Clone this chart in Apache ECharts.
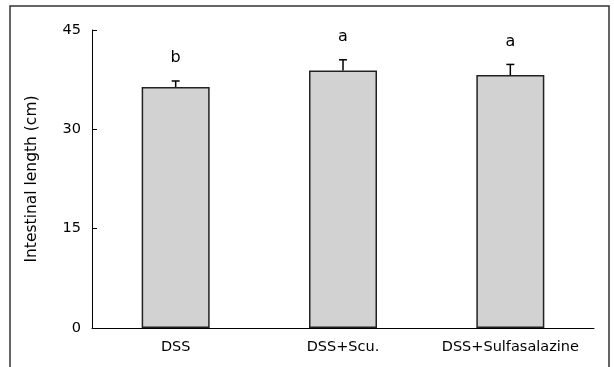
<!DOCTYPE html>
<html>
<head>
<meta charset="utf-8">
<script src="https://cdn.jsdelivr.net/npm/echarts@6/dist/echarts.min.js"></script>
<style>
  html, body { margin: 0; padding: 0; background: #fff; }
  #main { width: 614px; height: 367px; }
</style>
</head>
<body>
<div id="main"></div>
<script>
var categories = ['DSS', 'DSS+Scu.', 'DSS+Sulfasalazine'];
var means = [36.4, 38.9, 38.2];
var errors = [0.9, 1.6, 1.6];
var letters = ['b', 'a', 'a'];
var yTicks = [0, 15, 30, 45];

var myChart = echarts.init(document.getElementById('main'));

var errData = means.map(function (m, i) {
  return [i, m, m + errors[i], letters[i]];
});

var option = {
  animation: false,
  textStyle: { fontFamily: 'DejaVu Sans', color: '#000' },
  graphic: [{
    type: 'rect',
    shape: { x: 10, y: 6, width: 599, height: 400 },
    style: { fill: 'none', stroke: '#333', lineWidth: 1.5 },
    silent: true
  }],
  grid: { left: 92, right: 20, top: 30, bottom: 39 },
  xAxis: {
    type: 'category',
    data: categories,
    axisLine: { lineStyle: { color: '#000', width: 1 } },
    axisTick: { inside: true, length: 6, lineStyle: { color: '#000' } },
    axisLabel: { color: '#000', fontSize: 14.5, margin: 12, interval: 0, hideOverlap: false }
  },
  yAxis: {
    type: 'value',
    min: yTicks[0],
    max: yTicks[yTicks.length - 1],
    interval: 15,
    name: 'Intestinal length (cm)',
    nameLocation: 'middle',
    nameGap: 52,
    nameTextStyle: { fontSize: 15.5, color: '#000' },
    axisLine: { show: true, lineStyle: { color: '#000', width: 1 } },
    axisTick: { show: true, inside: true, length: 5, lineStyle: { color: '#000' } },
    axisLabel: { color: '#000', fontSize: 14.5, margin: 11 },
    splitLine: { show: false }
  },
  series: [{
    type: 'bar',
    data: means,
    barWidth: 68,
    itemStyle: { color: '#d2d2d2', borderColor: '#222', borderWidth: 1.5 }
  }, {
    type: 'custom',
    data: errData,
    z: 3,
    renderItem: function (params, api) {
      var base = api.coord([api.value(0), api.value(1)]);
      var top = api.coord([api.value(0), api.value(2)]);
      var cap = 4;
      return {
        type: 'group',
        children: [{
          type: 'line',
          shape: { x1: base[0], y1: base[1], x2: top[0], y2: top[1] },
          style: { stroke: '#000', lineWidth: 1.5 }
        }, {
          type: 'line',
          shape: { x1: top[0] - cap, y1: top[1], x2: top[0] + cap, y2: top[1] },
          style: { stroke: '#000', lineWidth: 1.5 }
        }, {
          type: 'text',
          x: top[0],
          y: top[1] - 23,
          style: {
            text: api.value(3),
            fontSize: 16,
            fontFamily: 'DejaVu Sans',
            fill: '#000',
            align: 'center',
            verticalAlign: 'middle'
          }
        }]
      };
    }
  }]
};

myChart.setOption(option);
</script>
</body>
</html>
